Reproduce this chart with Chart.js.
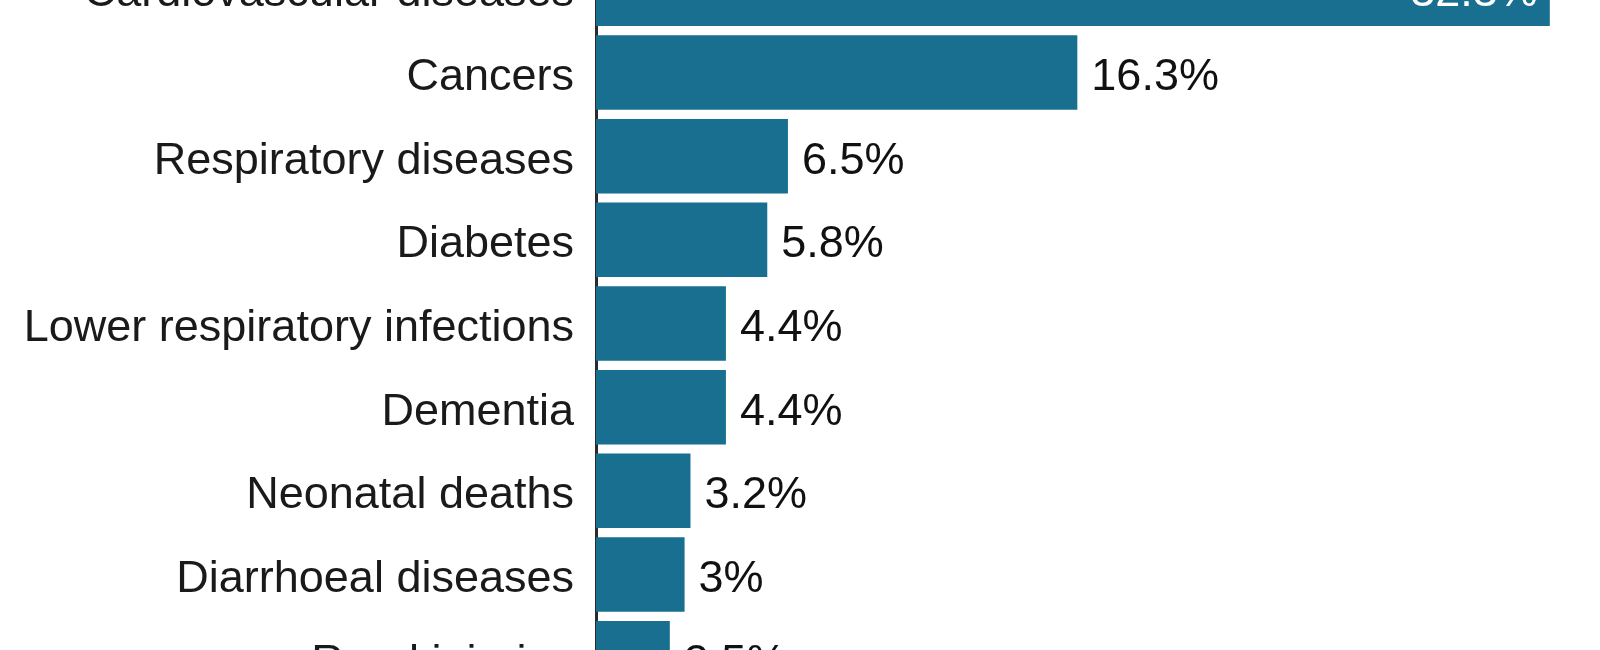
<!DOCTYPE html>
<html>
<head>
<meta charset="utf-8">
<script src="https://cdn.jsdelivr.net/npm/chart.js@4/dist/chart.umd.min.js"></script>
<style>
  html, body { margin: 0; padding: 0; background: #fff; overflow: hidden; }
  #wrap { position: relative; width: 1600px; height: 650px; }
</style>
</head>
<body>
<div id="wrap"><canvas id="myChart"></canvas></div>
<script>
const causes = ['Cardiovascular diseases', 'Cancers', 'Respiratory diseases', 'Diabetes',
  'Lower respiratory infections', 'Dementia', 'Neonatal deaths', 'Diarrhoeal diseases', 'Road injuries'];
const shares = [32.3, 16.3, 6.5, 5.8, 4.4, 4.4, 3.2, 3, 2.5];

const FONT = '"Liberation Sans", Arial, Helvetica, sans-serif';
const TEXT_DY = 5; // text sits a little below the bar centre in the original

// the original is a crop: first and last rows run past the canvas edges
const cropRows = {
  id: 'cropRows',
  afterLayout(chart) {
    const top = -53, bottom = 700;
    const y = chart.scales.y;
    chart.chartArea.top = top;
    chart.chartArea.bottom = bottom;
    chart.chartArea.height = bottom - top;
    y.top = top;
    y.bottom = bottom;
    y.height = bottom - top;
    y.configure();
  }
};

// category names and value labels
const barLabels = {
  id: 'barLabels',
  afterDatasetsDraw(chart) {
    const c = chart.ctx;
    const y = chart.scales.y;
    const meta = chart.getDatasetMeta(0);
    c.save();
    c.font = '45px ' + FONT;
    c.textBaseline = 'middle';
    causes.forEach((name, i) => {
      c.fillStyle = '#1a1a1a';
      c.textAlign = 'right';
      c.fillText(name, y.right - 22, y.getPixelForValue(i) + TEXT_DY);
    });
    meta.data.forEach((bar, i) => {
      const txt = shares[i] + '%';
      if (shares[i] > 30) {
        c.fillStyle = '#ffffff';
        c.textAlign = 'right';
        c.fillText(txt, bar.x - 12, bar.y + TEXT_DY);
      } else {
        c.fillStyle = '#111111';
        c.textAlign = 'left';
        c.fillText(txt, bar.x + 14, bar.y + TEXT_DY);
      }
    });
    c.restore();
  }
};

const ctx = document.getElementById('myChart').getContext('2d');
const myChart = new Chart(ctx, {
  type: 'bar',
  data: {
    labels: causes,
    datasets: [{
      data: shares,
      backgroundColor: '#186f90',
      borderWidth: 0,
      barPercentage: 0.89,
      categoryPercentage: 1
    }]
  },
  options: {
    indexAxis: 'y',
    responsive: true,
    maintainAspectRatio: false,
    animation: false,
    layout: { padding: 0 },
    plugins: {
      legend: { display: false },
      tooltip: { enabled: false }
    },
    scales: {
      x: {
        display: false,
        min: 0,
        max: 34
      },
      y: {
        afterFit(scale) { scale.width = 596; },
        grid: { display: false, drawTicks: false },
        border: { display: true, color: '#2a2a2a', width: 3 },
        ticks: { display: false }
      }
    }
  },
  plugins: [cropRows, barLabels]
});
</script>
</body>
</html>
